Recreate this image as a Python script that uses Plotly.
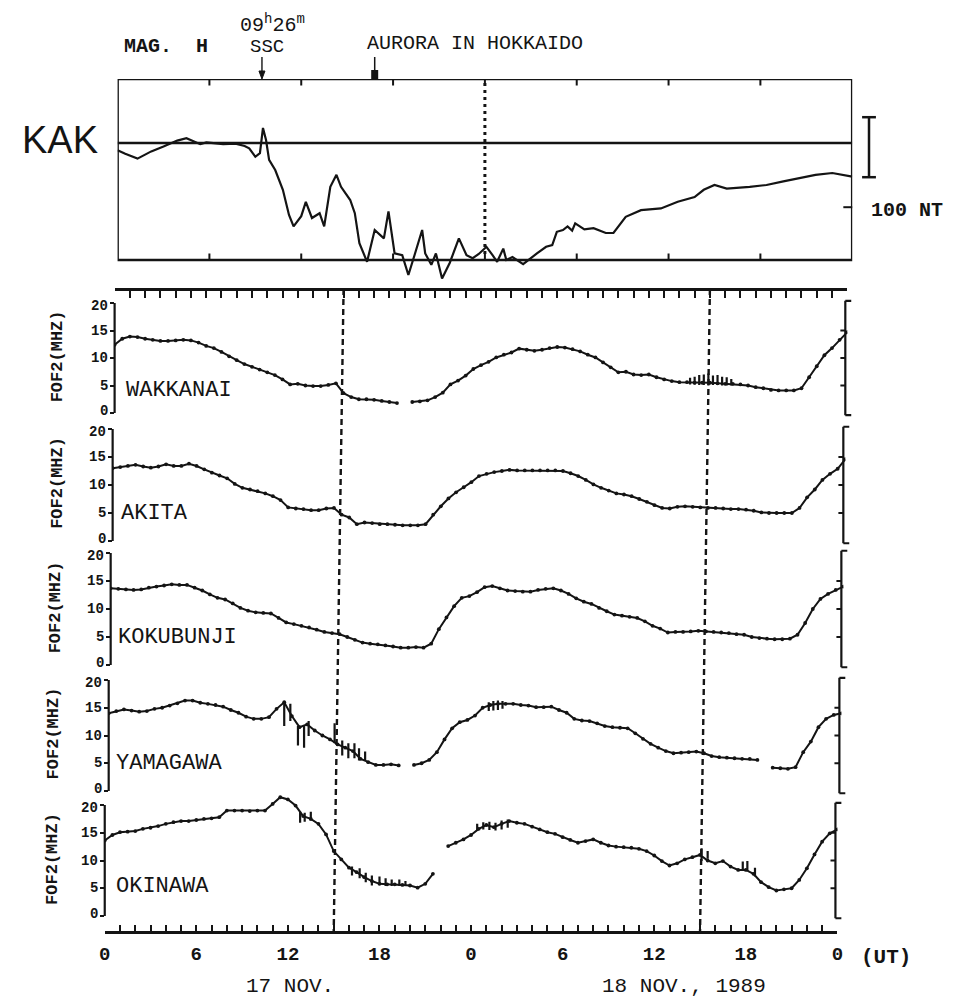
import plotly.graph_objects as go

# ---------------------------------------------------------------- data
# time axis (hours UT from 17 Nov 1989 00 UT), half-hourly readings
HOURS = [
    0.0, 0.5, 1.0, 1.5, 2.0, 2.5, 3.0, 3.5, 4.0, 4.5,
    5.0, 5.5, 6.0, 6.5, 7.0, 7.5, 8.0, 8.5, 9.0, 9.5,
    10.0, 10.5, 11.0, 11.5, 12.0, 12.5, 13.0, 13.5, 14.0, 14.5,
    15.0, 15.5, 16.0, 16.5, 17.0, 17.5, 18.0, 18.5, 19.0, 19.5,
    20.0, 20.5, 21.0, 21.5, 22.0, 22.5, 23.0, 23.5, 24.0, 24.5,
    25.0, 25.5, 26.0, 26.5, 27.0, 27.5, 28.0, 28.5, 29.0, 29.5,
    30.0, 30.5, 31.0, 31.5, 32.0, 32.5, 33.0, 33.5, 34.0, 34.5,
    35.0, 35.5, 36.0, 36.5, 37.0, 37.5, 38.0, 38.5, 39.0, 39.5,
    40.0, 40.5, 41.0, 41.5, 42.0, 42.5, 43.0, 43.5, 44.0, 44.5,
    45.0, 45.5, 46.0, 46.5, 47.0, 47.5, 48.0,
]

STATIONS = ["WAKKANAI", "AKITA", "KOKUBUNJI", "YAMAGAWA", "OKINAWA"]

WAKKANAI_FOF2 = [
    12.4, 13.5, 13.9, 13.8, 13.5, 13.3, 13.1, 13.1, 13.2, 13.3,
    13.2, 12.8, 12.2, 11.8, 11.1, 10.3, 9.6, 8.9, 8.4, 7.9,
    7.4, 6.9, 6.1, 5.2, 5.3, 5.0, 4.9, 4.9, 5.1, 5.4,
    3.6, 2.9, 2.5, 2.5, 2.4, 2.2, 2.0, 1.8, None, 2.0,
    2.1, 2.3, 2.9, 3.7, 5.2, 5.9, 6.8, 8.0, 8.7, 9.3,
    10.1, 10.6, 11.0, 11.7, 11.5, 11.3, 11.5, 11.8, 12.0, 11.9,
    11.6, 11.2, 10.6, 10.1, 9.2, 8.3, 7.4, 7.5, 7.0, 6.9,
    7.0, 6.5, 6.1, 5.8, 5.6, 5.6, 5.5, 5.5, 5.5, 5.4,
    5.3, 5.3, 5.2, 5.0, 4.7, 4.5, 4.2, 4.1, 4.1, 4.1,
    4.5, 6.5, 8.5, 10.5, 11.8, 13.3, 14.7,
]
AKITA_FOF2 = [
    13.0, 13.2, 13.4, 13.6, 13.3, 13.1, 13.3, 13.7, 13.4, 13.4,
    13.8, 13.4, 12.8, 12.2, 11.7, 11.2, 10.2, 9.5, 9.2, 8.9,
    8.5, 8.0, 7.3, 6.0, 5.8, 5.7, 5.5, 5.5, 5.8, 5.9,
    4.7, 4.2, 3.0, 3.3, 3.2, 3.0, 3.0, 2.9, 2.8, 2.8,
    2.8, 3.0, 4.7, 6.2, 7.6, 8.7, 9.6, 10.5, 11.6, 12.0,
    12.3, 12.5, 12.7, 12.6, 12.6, 12.6, 12.6, 12.6, 12.6, 12.5,
    12.1, 11.6, 10.9, 10.1, 9.5, 9.0, 8.5, 8.3, 8.0, 7.5,
    7.0, 6.4, 5.9, 5.8, 6.1, 6.2, 6.1, 6.0, 5.9, 5.9,
    5.8, 5.7, 5.7, 5.6, 5.4, 5.1, 5.0, 5.0, 5.0, 5.0,
    5.9, 7.8, 9.2, 10.9, 12.0, 12.9, 14.6,
]
KOKUBUNJI_FOF2 = [
    13.7, 13.6, 13.5, 13.4, 13.5, 13.8, 14.0, 14.2, 14.4, 14.3,
    14.3, 13.8, 13.3, 12.6, 12.0, 11.7, 11.0, 10.2, 9.7, 9.4,
    9.3, 9.2, 8.4, 7.6, 7.3, 7.0, 6.7, 6.3, 5.9, 5.7,
    5.5, 5.0, 4.5, 4.0, 3.8, 3.7, 3.5, 3.3, 3.1, 3.1,
    3.2, 3.1, 3.8, 6.4, 8.5, 10.5, 12.0, 12.3, 13.0, 13.9,
    14.1, 13.7, 13.3, 13.2, 13.1, 13.1, 13.4, 13.6, 13.7, 13.3,
    12.7, 11.9, 11.3, 10.9, 10.2, 9.6, 9.0, 8.8, 8.6, 8.4,
    7.8, 7.0, 6.5, 5.8, 5.9, 5.9, 6.0, 6.1, 6.0, 5.9,
    5.8, 5.7, 5.5, 5.4, 5.0, 4.8, 4.7, 4.6, 4.6, 4.7,
    5.4, 7.5, 10.0, 11.8, 12.7, 13.4, 14.0,
]
YAMAGAWA_FOF2 = [
    14.0, 14.4, 14.7, 14.5, 14.3, 14.4, 14.8, 15.0, 15.4, 15.8,
    16.3, 16.3, 15.9, 15.7, 15.5, 15.2, 14.6, 14.1, 13.4, 13.0,
    13.0, 13.3, 14.8, 16.0, 13.5, 11.5, 12.0, 10.9, 10.0, 9.3,
    8.4, 7.8, 7.2, 5.8, 5.2, 4.7, 4.7, 4.8, 4.6, None,
    4.7, 5.0, 5.6, 7.0, 9.3, 11.3, 12.4, 12.8, 13.6, 15.0,
    15.5, 15.7, 15.7, 15.7, 15.5, 15.4, 15.1, 15.1, 15.2, 14.6,
    14.1, 13.0, 12.7, 12.6, 12.2, 11.7, 11.5, 11.4, 11.3, 10.4,
    9.4, 8.5, 7.8, 7.2, 6.8, 6.9, 7.0, 7.1, 6.8, 6.3,
    6.1, 6.0, 5.9, 5.8, 5.8, 5.6, None, 4.2, 4.1, 4.0,
    4.3, 7.0, 8.9, 11.5, 13.0, 13.7, 14.0,
]
OKINAWA_FOF2 = [
    13.6, 14.6, 15.1, 15.2, 15.3, 15.7, 15.9, 16.2, 16.6, 16.9,
    17.1, 17.1, 17.3, 17.5, 17.6, 17.8, 19.0, 19.0, 19.0, 18.9,
    19.0, 19.0, 20.2, 21.4, 21.0, 19.9, 18.0, 17.5, 16.6, 14.7,
    11.7, 10.2, 8.7, 7.9, 7.0, 6.3, 5.8, 5.7, 5.7, 5.6,
    5.5, 5.1, 5.8, 7.6, None, 12.6, 13.2, 13.8, 14.6, 15.7,
    16.4, 16.0, 16.6, 17.1, 16.8, 16.6, 16.1, 15.6, 15.1, 14.8,
    14.2, 13.7, 13.2, 13.5, 13.8, 13.2, 12.7, 12.5, 12.4, 12.3,
    12.1, 11.7, 10.9, 9.9, 9.1, 9.5, 10.2, 10.6, 11.0, 10.0,
    9.5, 9.9, 8.9, 8.3, 8.3, 7.6, 6.1, 5.2, 4.6, 4.8,
    5.0, 6.5, 8.6, 11.1, 13.4, 14.9, 15.6,
]

# spread-F (vertical scatter) ranges: time, low, high
WAKKANAI_SPREAD_T = [37.7, 38.0, 38.3, 38.6, 38.9, 39.2, 39.5, 39.8, 40.1, 40.4]
WAKKANAI_SPREAD_LO = [5.2, 5.2, 5.1, 5.1, 5.0, 5.1, 5.1, 5.0, 5.0, 5.0]
WAKKANAI_SPREAD_HI = [6.4, 6.6, 6.9, 7.0, 7.2, 6.8, 6.9, 6.6, 6.5, 6.2]
YAMAGAWA_SPREAD_T = [11.5, 11.9, 12.4, 12.8, 13.1, 14.8, 15.3, 15.7, 16.1, 16.4, 16.8, 24.9, 25.2, 25.5, 25.8]
YAMAGAWA_SPREAD_LO = [11.7, 12.6, 8.2, 7.8, 9.9, 8.6, 6.4, 5.9, 5.9, 5.5, 5.4, 14.4, 14.5, 14.6, 14.8]
YAMAGAWA_SPREAD_HI = [16.1, 15.7, 11.7, 11.7, 12.6, 12.2, 9.1, 8.6, 8.6, 7.7, 7.1, 16.0, 16.2, 16.3, 16.2]
OKINAWA_SPREAD_T = [12.8, 13.1, 13.5, 16.2, 16.7, 17.1, 17.5, 18.0, 18.4, 18.8, 19.3, 19.7,
                    24.4, 24.8, 25.2, 25.6, 26.0, 26.4, 39.1, 39.5, 41.8, 42.1, 42.6]
OKINAWA_SPREAD_LO = [16.8, 17.0, 17.2, 7.3, 6.8, 6.1, 5.5, 5.6, 5.4, 5.4, 5.4, 5.4,
                     15.4, 15.6, 15.5, 15.4, 15.6, 15.9, 9.9, 10.3, 8.4, 8.1, 7.1]
OKINAWA_SPREAD_HI = [18.8, 18.6, 18.8, 8.9, 8.6, 7.8, 7.3, 7.1, 6.8, 6.6, 6.6, 6.3,
                     16.6, 16.9, 17.0, 16.8, 17.2, 17.4, 12.2, 11.7, 9.8, 9.9, 8.7]

# KAK magnetometer H component (nT, relative to the base line)
KAK_T = [0.0, 0.5, 1.3, 2.2, 3.0, 3.9, 4.5, 5.0, 5.4, 5.8,
         6.3, 6.9, 7.7, 8.3, 8.6, 9.0, 9.3, 9.5, 9.7, 9.9,
         10.3, 10.8, 11.2, 11.5, 12.0, 12.3, 12.7, 13.2, 13.5, 13.9,
         14.3, 14.6, 15.2, 15.5, 15.8, 16.3, 16.8, 17.2, 17.4, 17.7,
         18.1, 18.6, 19.0, 19.4, 19.6, 19.9, 20.1, 20.5, 20.8, 21.2,
         21.7, 22.3, 22.8, 23.2, 23.6, 24.1, 24.5, 24.8, 25.2, 25.4,
         25.8, 26.5, 27.4, 28.0, 28.4, 28.7, 29.1, 29.4, 29.7, 29.9,
         30.5, 31.1, 31.9, 32.4, 33.2, 34.2, 35.5, 36.6, 37.7, 38.3,
         39.0, 39.8, 41.3, 42.4, 43.5, 44.5, 45.6, 46.7, 47.4, 48.0]
KAK_H = [-12, -18, -26, -14, -6, 4, 8, 3, -2, 1,
         0, -2, -1, -5, -9, -23, -17, 25, 5, -28,
         -45, -78, -120, -139, -122, -98, -125, -117, -139, -73,
         -53, -73, -95, -117, -167, -198, -145, -155, -159, -114,
         -184, -187, -220, -187, -170, -145, -184, -203, -184, -226,
         -200, -159, -187, -192, -185, -173, -187, -198, -176, -195,
         -190, -202, -184, -173, -170, -148, -145, -139, -146, -134,
         -144, -142, -150, -150, -123, -112, -109, -98, -90, -78,
         -70, -76, -73, -70, -64, -59, -53, -50, -53, -56]

SSC_TIME = 9 + 26 / 60.0
AURORA_TIME = 16.8
KAK_DASH_TIME = 24
FOF2_DASH_TIMES = [15, 39]
KAK_SCALE_NT = 100
KAK_SCALE_TOP = 43
KAK_RIGHT_TICK = -107

TICK_HOURS = [0, 6, 12, 18, 24, 30, 36, 42, 48]
TICK_LABELS = ["0", "6", "12", "18", "0", "6", "12", "18", "0"]
HOUR_TICKS = list(range(0, 49))
KAK_TICK_HOURS = [6, 12, 18, 24, 30, 36, 42]
FOF2_TICKS = [0, 5, 10, 15, 20]
FOF2_TICK_LABELS = ["0", "5", "10", "15", "20"]

# ---------------------------------------------------------------- geometry / style
# figure kept a few px smaller than the window so the page never overflows
W, H = 954, 1001
INK = "#141414"
MONO = "Liberation Mono, Courier New, monospace"
SANS = "Liberation Sans, Arial, sans-serif"


def fx(p):
    return p / W


def fy(p):
    return 1 - p / H


PANEL_TOP_PX = [303, 429, 553, 680, 805]
PANEL_BOT_PX = [413, 541, 665, 791, 916]
PANEL_LEFT_PX = [110, 108, 106, 104, 100]
SPAN_PX = 742
FRAME_TOP_PX = 289
AXIS_BOT_PX = 932
Y_LO, Y_HI = -1.5, 22.5

KAK_LEFT, KAK_RIGHT = 113, 857
KAK_TOP_PX, KAK_BOX_BOT_PX, KAK_DOM_BOT_PX = 79, 260, 284
KAK_BASE_PX = 143
KAK_PX_PER_NT = 0.6
KAK_YMAX = (KAK_BASE_PX - KAK_TOP_PX) / KAK_PX_PER_NT
KAK_YBOX = -(KAK_BOX_BOT_PX - KAK_BASE_PX) / KAK_PX_PER_NT
KAK_YMIN = -(KAK_DOM_BOT_PX - KAK_BASE_PX) / KAK_PX_PER_NT

fig = go.Figure()
layout = dict(
    width=W, height=H, autosize=False,
    margin=dict(l=0, r=0, t=0, b=0),
    paper_bgcolor="white", plot_bgcolor="rgba(0,0,0,0)",
    showlegend=False,
)
shapes = []
annotations = []

SERIES = [WAKKANAI_FOF2, AKITA_FOF2, KOKUBUNJI_FOF2, YAMAGAWA_FOF2, OKINAWA_FOF2]
SPREADS = {
    0: (WAKKANAI_SPREAD_T, WAKKANAI_SPREAD_LO, WAKKANAI_SPREAD_HI),
    3: (YAMAGAWA_SPREAD_T, YAMAGAWA_SPREAD_LO, YAMAGAWA_SPREAD_HI),
    4: (OKINAWA_SPREAD_T, OKINAWA_SPREAD_LO, OKINAWA_SPREAD_HI),
}

for i, name in enumerate(STATIONS):
    sx = "" if i == 0 else str(i + 1)
    xa, ya = "x" + sx, "y" + sx
    fig.add_trace(go.Scatter(
        x=HOURS, y=SERIES[i], mode="lines+markers", xaxis=xa, yaxis=ya,
        line=dict(color=INK, width=2.0), marker=dict(color=INK, size=3.8),
        connectgaps=False, hoverinfo="skip"))
    if i in SPREADS:
        t, lo, hi = SPREADS[i]
        bx, by = [], []
        for tt, l, h in zip(t, lo, hi):
            bx += [tt, tt, None]
            by += [l, h, None]
        fig.add_trace(go.Scatter(x=bx, y=by, mode="lines", xaxis=xa, yaxis=ya,
                                 line=dict(color=INK, width=2.2), hoverinfo="skip"))

    left = PANEL_LEFT_PX[i]
    ppm = (PANEL_BOT_PX[i] - PANEL_TOP_PX[i]) / 20.0
    dom_bot = PANEL_BOT_PX[i] - Y_LO * ppm
    dom_top = PANEL_TOP_PX[i] - (Y_HI - 20) * ppm
    xdom = [fx(left), fx(left + SPAN_PX)]
    xaxis = dict(domain=xdom, range=[0, 48], showgrid=False, zeroline=False,
                 fixedrange=True)
    if i == 0:
        xaxis.update(side="top", anchor="free", position=fy(FRAME_TOP_PX),
                     showline=True, linecolor=INK, linewidth=2.5,
                     ticks="inside", tickvals=HOUR_TICKS, ticklen=7, tickwidth=2,
                     tickcolor=INK, showticklabels=False)
    elif i == 4:
        xaxis.update(side="bottom", anchor="free", position=fy(AXIS_BOT_PX),
                     showline=True, linecolor=INK, linewidth=2.5,
                     ticks="inside", tickvals=TICK_HOURS, ticktext=TICK_LABELS,
                     ticklen=6, tickwidth=2, tickcolor=INK,
                     minor=dict(tickvals=HOUR_TICKS, ticks="inside", ticklen=6,
                                tickwidth=2, tickcolor=INK),
                     tickfont=dict(family=MONO, size=19, color=INK, weight="bold"),
                     ticklabelstandoff=3)
    else:
        xaxis.update(visible=False, anchor=ya)
    layout["xaxis" + sx] = xaxis
    layout["yaxis" + sx] = dict(
        domain=[fy(dom_bot), fy(dom_top)], range=[Y_LO, Y_HI],
        anchor=xa, showgrid=False, zeroline=False, fixedrange=True,
        showline=False, showticklabels=False,
        ticks="outside", tickvals=FOF2_TICKS, ticklen=4, tickwidth=2, tickcolor=INK)

    # tick labels (0 and 20 nudged apart so neighbouring panels do not collide)
    for v, lab in zip(FOF2_TICKS, FOF2_TICK_LABELS):
        shift = 2.5 if v == 0 else (-2.5 if v == 20 else 0)
        annotations.append(dict(text=lab, xref="paper", yref=ya, x=fx(left - 5), y=v,
                                yshift=shift, xanchor="right", yanchor="middle",
                                showarrow=False,
                                font=dict(family=MONO, size=14, color=INK, weight="bold")))

    # left axis line (0..20 only)
    shapes.append(dict(type="line", xref="paper", yref=ya, x0=fx(left), x1=fx(left),
                       y0=0, y1=20, line=dict(color=INK, width=2.2)))
    # right-hand bracket axis
    xr = left + SPAN_PX - 2
    shapes.append(dict(type="line", xref="paper", yref=ya, x0=fx(xr), x1=fx(xr),
                       y0=-0.4, y1=20.4, line=dict(color=INK, width=2.2)))
    for v in (-0.4, 20.4):
        shapes.append(dict(type="line", xref="paper", yref=ya, x0=fx(xr), x1=fx(xr + 6),
                           y0=v, y1=v, line=dict(color=INK, width=2.2)))
    for v in (5, 10, 15):
        shapes.append(dict(type="line", xref="paper", yref=ya, x0=fx(xr - 5), x1=fx(xr),
                           y0=v, y1=v, line=dict(color=INK, width=2)))

    mid = (PANEL_TOP_PX[i] + PANEL_BOT_PX[i]) / 2
    annotations.append(dict(text="FOF2(MHZ)", xref="paper", yref="paper",
                            x=fx(53 - 1.5 * i), y=fy(mid - 2), textangle=-90,
                            showarrow=False, xanchor="center", yanchor="middle",
                            font=dict(family=MONO, size=17, color=INK, weight="bold")))
    name_y = [390, 513, 637, 763, 886][i]
    name_x = [119, 114, 111, 109, 109][i]
    annotations.append(dict(text=name, xref="paper", yref="paper",
                            x=fx(name_x), y=fy(name_y), showarrow=False,
                            xanchor="left", yanchor="middle",
                            font=dict(family=MONO, size=22, color=INK)))

# dashed 15 UT markers through the fOF2 panels (scan is slightly slanted)
for t in FOF2_DASH_TIMES:
    xt = PANEL_LEFT_PX[0] + t / 48 * SPAN_PX
    xb = 100 + t / 48 * SPAN_PX
    shapes.append(dict(type="line", xref="paper", yref="paper",
                       x0=fx(xt), x1=fx(xb), y0=fy(FRAME_TOP_PX), y1=fy(AXIS_BOT_PX),
                       line=dict(color=INK, width=2.4, dash="6px,4px")))

# ---------------------------------------------------------------- KAK panel
fig.add_trace(go.Scatter(x=KAK_T, y=KAK_H, mode="lines", xaxis="x6", yaxis="y6",
                         line=dict(color=INK, width=2.2), hoverinfo="skip"))
layout["xaxis6"] = dict(domain=[fx(KAK_LEFT), fx(KAK_RIGHT)], range=[0, 48],
                        visible=False, anchor="y6", fixedrange=True)
layout["yaxis6"] = dict(domain=[fy(KAK_DOM_BOT_PX), fy(KAK_TOP_PX)],
                        range=[KAK_YMIN, KAK_YMAX], visible=False, anchor="x6",
                        fixedrange=True)
shapes.append(dict(type="rect", xref="x6", yref="y6", x0=0, x1=48, y0=KAK_YBOX, y1=KAK_YMAX,
                   line=dict(color=INK, width=2.6)))
shapes.append(dict(type="line", xref="x6", yref="y6", x0=0, x1=48, y0=0, y1=0,
                   line=dict(color=INK, width=2.4)))
for t in KAK_TICK_HOURS:
    shapes.append(dict(type="line", xref="x6", yref="y6", x0=t, x1=t,
                       y0=KAK_YMAX, y1=KAK_YMAX - 11, line=dict(color=INK, width=2)))
    shapes.append(dict(type="line", xref="x6", yref="y6", x0=t, x1=t,
                       y0=KAK_YBOX, y1=KAK_YBOX + 11, line=dict(color=INK, width=2)))
shapes.append(dict(type="line", xref="paper", yref="y6", x0=fx(KAK_RIGHT - 9), x1=fx(KAK_RIGHT),
                   y0=KAK_RIGHT_TICK, y1=KAK_RIGHT_TICK, line=dict(color=INK, width=2)))
shapes.append(dict(type="line", xref="x6", yref="paper", x0=KAK_DASH_TIME, x1=KAK_DASH_TIME,
                   y0=fy(83), y1=fy(258), line=dict(color=INK, width=3, dash="3px,4px")))
# 100 nT scale bar
sb_x = 874
shapes.append(dict(type="line", xref="paper", yref="y6", x0=fx(sb_x), x1=fx(sb_x),
                   y0=KAK_SCALE_TOP - KAK_SCALE_NT, y1=KAK_SCALE_TOP, line=dict(color=INK, width=2.5)))
for v in (KAK_SCALE_TOP, KAK_SCALE_TOP - KAK_SCALE_NT):
    shapes.append(dict(type="line", xref="paper", yref="y6", x0=fx(sb_x - 7), x1=fx(sb_x + 7),
                       y0=v, y1=v, line=dict(color=INK, width=2.5)))
# aurora marker
shapes.append(dict(type="line", xref="x6", yref="paper", x0=AURORA_TIME, x1=AURORA_TIME,
                   y0=fy(57), y1=fy(72), line=dict(color=INK, width=1.5)))
shapes.append(dict(type="rect", xref="x6", yref="paper", xsizemode="pixel", xanchor=AURORA_TIME,
                   x0=-3.5, x1=3.5, y0=fy(80), y1=fy(70), fillcolor=INK, line=dict(width=0)))
# SSC arrow
shapes.append(dict(type="line", xref="x6", yref="paper", x0=SSC_TIME, x1=SSC_TIME,
                   y0=fy(57), y1=fy(76), line=dict(color=INK, width=1.4)))
shapes.append(dict(type="path", xref="x6", yref="paper", xsizemode="pixel", ysizemode="pixel",
                   xanchor=SSC_TIME, yanchor=fy(KAK_TOP_PX),
                   path="M -3 8 L 3 8 L 0 0 Z", fillcolor=INK, line=dict(color=INK, width=1)))


# ---------------------------------------------------------------- texts
def txt(s, x, y, size, family=MONO, xanchor="left", bold=False, color=INK):
    annotations.append(dict(text=s, xref="paper", yref="paper", x=fx(x), y=fy(y),
                            showarrow=False, xanchor=xanchor, yanchor="middle",
                            font=dict(family=family, size=size, color=color,
                                      weight="bold" if bold else "normal")))


txt("MAG.\u00a0 H", 117, 46, 20, bold=True)
txt("09<sup>h</sup>26<sup>m</sup>", 270, 24, 20, xanchor="center")
txt("SSC", 264, 47, 19, xanchor="center")
txt("AURORA IN HOKKAIDO", 364, 44, 20)
txt("KAK", 55, 140, 38, family=SANS, xanchor="center")
txt("100 NT", 874, 211, 20, bold=True)
txt("(UT)", 864, 957, 21, bold=True)
txt("17 NOV.", 288, 986, 21, xanchor="center")
txt("18 NOV., 1989", 687, 986, 21, xanchor="center")

layout["shapes"] = shapes
layout["annotations"] = annotations
fig.update_layout(**layout)
fig.write_html("out.html")
